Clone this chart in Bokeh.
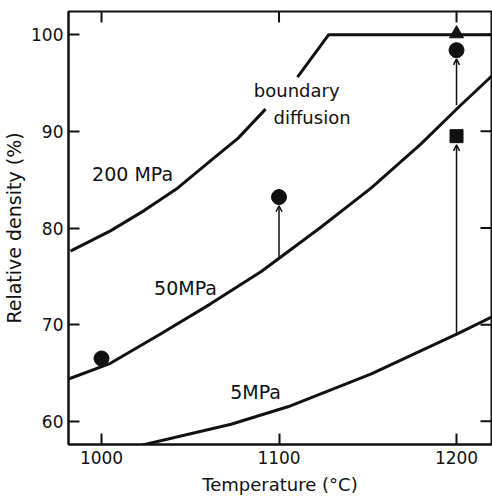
import numpy as np
from bokeh.plotting import figure
from bokeh.models import (LinearAxis, FixedTicker, Range1d, Arrow, OpenHead,
                          ColumnDataSource, Label)
from bokeh.embed import file_html
from bokeh.resources import INLINE

nan = float("nan")

# ---- data ----
temp_200 = [982.5, 1005, 1024, 1043, 1061, 1077, 1092.4, nan, 1110.4, 1128, 1220]
dens_200 = [77.6, 79.7, 81.8, 84.15, 86.9, 89.3, 92.3, nan, 95.6, 100.0, 100.0]

temp_50 = [981, 1005, 1033, 1061, 1090, 1123, 1152, 1180, 1202, 1220]
dens_50 = [64.35, 66.0, 69.0, 72.1, 75.5, 80.0, 84.15, 88.7, 92.65, 95.75]

temp_5 = [1022, 1073, 1105, 1152, 1201, 1220]
dens_5 = [57.5, 59.7, 61.5, 64.9, 69.1, 70.8]

circle_temp = [1000, 1100, 1200]
circle_dens = [66.5, 83.2, 98.4]
square_temp = [1200]
square_dens = [89.5]
triangle_temp = [1200]
triangle_dens = [100.1]

arrow_temp = [1100, 1200, 1200]
arrow_from = [76.9, 92.7, 69.1]
arrow_to = [82.3, 97.5, 88.6]

x_ticks = [1000, 1100, 1200]
y_ticks = [60, 70, 80, 90, 100]

X_MIN, X_MAX = 981.4, 1219.7
Y_MIN, Y_MAX = 57.6, 102.4

FONT = "DejaVu Sans"
INK = "#111111"

p = figure(width=492, height=497, output_backend="svg", toolbar_location=None,
           x_range=Range1d(X_MIN, X_MAX), y_range=Range1d(Y_MIN, Y_MAX),
           min_border_left=68, min_border_right=1, min_border_top=11,
           min_border_bottom=53, x_axis_location=None, y_axis_location=None)
p.xgrid.visible = False
p.ygrid.visible = False
p.outline_line_color = INK
p.outline_line_width = 2
p.background_fill_color = "white"
p.border_fill_color = "white"


def style_axis(ax, ticks, label_size):
    ax.ticker = FixedTicker(ticks=ticks)
    ax.major_tick_in = 11
    ax.major_tick_out = 0
    ax.minor_tick_line_color = None
    ax.major_tick_line_color = INK
    ax.major_tick_line_width = 2
    ax.axis_line_color = INK
    ax.axis_line_width = 2
    ax.major_label_text_font = FONT
    ax.major_label_text_font_size = "17px"
    ax.major_label_text_color = INK
    ax.axis_label_text_font = FONT
    ax.axis_label_text_font_size = label_size
    ax.axis_label_text_font_style = "normal"
    ax.axis_label_text_color = INK


xb = LinearAxis(axis_label="Temperature (°C)")
style_axis(xb, x_ticks, "18px")
xb.major_label_standoff = 6
xb.axis_label_standoff = 7
p.add_layout(xb, "below")

yl = LinearAxis(axis_label="Relative density (%)")
style_axis(yl, y_ticks, "19px")
yl.major_label_standoff = 5
yl.axis_label_standoff = 3
p.add_layout(yl, "left")

# inward ticks on the top and right frame edges (mirrored axes)
p.ray(x=x_ticks, y=[Y_MAX] * len(x_ticks), length=11, length_units="screen",
      angle=-np.pi / 2, line_color=INK, line_width=2)
p.ray(x=[X_MAX] * len(y_ticks), y=y_ticks, length=11, length_units="screen",
      angle=np.pi, line_color=INK, line_width=2)

# curves
p.line(temp_200, dens_200, line_color=INK, line_width=3)
p.line(temp_50, dens_50, line_color=INK, line_width=3)
p.line(temp_5, dens_5, line_color=INK, line_width=3)

# arrows
asrc = ColumnDataSource(dict(x=arrow_temp, y0=arrow_from, y1=arrow_to))
p.add_layout(Arrow(end=OpenHead(size=6, line_color=INK, line_width=1.5),
                   x_start="x", y_start="y0", x_end="x", y_end="y1",
                   source=asrc, line_color=INK, line_width=1.5))

# markers
p.scatter(circle_temp, circle_dens, marker="circle", size=15,
          fill_color=INK, line_color=INK)
p.scatter(square_temp, square_dens, marker="square", size=13,
          fill_color=INK, line_color=INK)
p.scatter(triangle_temp, triangle_dens, marker="triangle", size=14,
          fill_color=INK, line_color=INK)

# annotations
for txt, x, y, size, align, base in [
    ("200 MPa", 1017.5, 85.6, "19px", "center", "middle"),
    ("50MPa", 1047.3, 73.8, "19px", "center", "middle"),
    ("5MPa", 1086.8, 63.0, "19px", "center", "middle"),
    ("boundary", 1085.8, 94.2, "18px", "left", "alphabetic"),
    ("diffusion", 1096.9, 91.4, "18px", "left", "alphabetic"),
]:
    p.add_layout(Label(x=x, y=y, text=txt, text_font=FONT,
                       text_font_size=size, text_color=INK,
                       text_align=align, text_baseline=base))

open("out.html", "w").write(file_html(p, INLINE))
